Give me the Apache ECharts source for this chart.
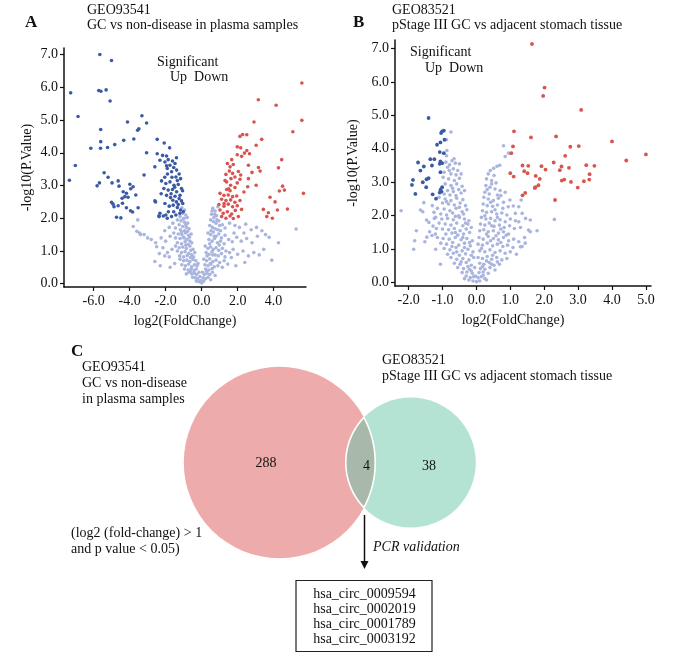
<!DOCTYPE html>
<html>
<head>
<meta charset="utf-8">
<script src="https://cdn.jsdelivr.net/npm/echarts@6/dist/echarts.min.js"></script>
<style>
  html, body { margin: 0; padding: 0; background: #fff; }
  #chart { width: 680px; height: 658px; }
</style>
</head>
<body>
<div id="chart"></div>
<script>
// ---- panel A: GEO93541 volcano ----
const aXTicks = [-6, -4, -2, 0, 2, 4];
const aYTicks = [0, 1, 2, 3, 4, 5, 6, 7];

const aDown = [
  [-5.66,7.00],[-5.01,6.82],[-7.28,5.83],[-5.72,5.90],[-5.60,5.88],[-5.31,5.92],[-5.09,5.58],[-6.87,5.11],
  [-3.32,5.13],[-4.12,4.94],[-3.06,4.91],[-3.49,4.73],[-3.56,4.69],[-5.61,4.71],[-5.61,4.34],[-4.33,4.38],
  [-3.77,4.42],[-4.83,4.25],[-6.16,4.14],[-5.62,4.14],[-5.23,4.16],[-3.06,4.00],[-2.47,4.41],[-2.08,4.30],
  [-1.78,4.15],[-7.02,3.61],[-5.42,3.39],[-3.20,3.32],[-7.35,3.16],[-5.20,3.25],[-5.81,2.99],[-5.68,3.08],
  [-4.98,3.08],[-4.64,3.14],[-4.59,2.98],[-3.99,3.04],[-3.81,2.96],[-3.94,2.90],[-4.36,2.81],[-4.18,2.76],
  [-4.27,2.66],[-4.42,2.61],[-4.09,2.64],[-3.66,2.71],[-5.01,2.49],[-4.92,2.43],[-4.87,2.35],[-4.64,2.38],
  [-4.40,2.46],[-4.18,2.32],[-3.95,2.23],[-3.84,2.19],[-3.53,2.32],[-4.73,2.03],[-4.49,2.01],[-2.56,2.50],
  [-2.38,2.07],[-1.99,2.10],[-2.32,2.15],
  [-2.47,3.97],[-2.17,3.92],[-2.32,3.77],[-2.60,3.57],[-2.04,3.72],[-1.86,3.79],[-1.62,3.75],[-1.76,3.62],
  [-1.48,3.67],[-1.91,3.52],[-1.39,3.47],[-1.67,3.42],[-1.25,3.35],[-1.43,3.26],[-1.17,3.21],[-2.23,3.14],
  [-1.99,3.06],[-1.76,3.11],[-1.54,3.01],[-1.30,3.03],[-1.12,2.91],[-2.10,2.91],[-1.86,2.86],[-1.62,2.88],
  [-1.39,2.81],[-1.06,2.84],[-1.95,2.70],[-1.73,2.63],[-1.48,2.67],[-1.25,2.60],[-1.12,2.53],[-2.60,2.53],
  [-2.04,2.45],[-1.80,2.37],[-1.58,2.40],[-1.35,2.33],[-1.17,2.25],[-2.36,2.05],[-2.13,2.07],[-1.91,2.00],
  [-1.67,2.05],[-1.43,2.10],[-1.21,2.15],[-1.02,2.20],
  [-1.95,3.60],[-1.55,3.55],[-1.35,3.15],[-1.65,3.25],[-1.90,3.35],[-2.05,3.25],[-1.50,2.95],[-1.20,2.70],
  [-1.60,2.55],[-1.05,2.45],[-1.40,2.50],[-1.85,2.20],[-1.55,2.20],[-1.30,2.42],[-1.70,2.75],[-2.25,2.75],
  [-1.95,3.90],[-1.40,3.85]
];

const aUp = [
  [5.57,6.13],[3.15,5.62],[4.14,5.45],[2.91,4.94],[5.57,4.99],[5.07,4.64],
  [2.28,4.56],[2.51,4.55],[2.13,4.50],[3.34,4.41],[3.03,4.23],[1.98,4.18],[2.17,4.15],
  [2.51,4.07],[2.38,3.99],[2.66,3.97],[1.98,3.94],[2.22,3.89],[4.45,3.79],[1.67,3.79],[1.43,3.67],
  [1.76,3.64],[1.58,3.57],[2.60,3.62],[3.16,3.55],[3.25,3.44],[4.27,3.54],[1.54,3.44],[1.72,3.37],
  [1.35,3.34],[1.85,3.26],[1.63,3.21],[2.04,3.43],[2.17,3.32],[2.13,3.19],[1.98,3.08],[2.60,3.21],
  [3.03,3.01],[2.56,2.96],[1.39,3.11],[1.61,3.01],[1.85,2.94],[1.39,2.88],[1.58,2.84],[4.50,2.98],
  [4.60,2.86],[4.32,2.83],[5.66,2.76],[1.02,2.76],[1.24,2.70],[1.48,2.71],[1.72,2.66],[1.95,2.68],
  [1.11,2.58],[1.35,2.54],[1.61,2.56],[1.85,2.49],[2.13,2.54],[3.80,2.64],[4.08,2.50],[0.96,2.42],
  [1.24,2.37],[1.48,2.43],[1.72,2.35],[1.98,2.38],[2.22,2.27],[3.43,2.27],[3.71,2.17],[4.21,2.25],
  [4.77,2.28],[1.02,2.25],[1.20,2.15],[1.43,2.20],[1.67,2.13],[1.87,2.24],[1.11,2.05],[1.35,2.00],
  [1.58,2.07],[1.76,1.99],[2.04,2.05],[3.62,2.05],[3.93,2.00],
  [1.30,3.15],[1.50,2.90],[1.25,2.45],[2.35,2.80],[2.80,3.40]
];

const aNs = [
  [-1.10,2.32],[-0.95,2.25],[-1.05,2.15],[-0.88,2.10],[-1.20,2.05],[-0.98,2.00],[-0.80,2.02],
  [0.62,2.30],[0.75,2.22],[0.90,2.35],[0.55,2.12],[0.82,2.08],[0.68,2.02],
  [-1.35,1.95],[-1.15,1.92],[-0.95,1.88],[-0.78,1.85],[-1.25,1.80],[-1.05,1.75],[-0.85,1.72],[-0.70,1.68],
  [-1.45,1.70],[-1.18,1.65],[-0.95,1.62],[-1.60,1.85],[-1.80,1.72],[-2.05,1.62],
  [0.50,1.95],[0.65,1.90],[0.80,1.85],[0.95,1.92],[1.15,1.80],[0.45,1.78],[0.60,1.72],[0.75,1.68],
  [0.90,1.65],[1.30,1.70],[1.55,1.85],[1.85,1.78],[2.10,1.72],[2.45,1.82],[2.75,1.65],[3.05,1.72],
  [3.35,1.62],[5.25,1.67],[1.05,1.62],
  [-1.55,1.55],[-1.30,1.52],[-1.10,1.50],[-0.90,1.55],[-0.72,1.48],[-0.58,1.52],[-1.45,1.40],[-1.20,1.38],
  [-1.00,1.42],[-0.82,1.35],[-0.65,1.30],[-1.35,1.25],[-1.12,1.22],[-0.92,1.28],[-0.75,1.20],[-0.55,1.25],
  [-1.75,1.45],[-2.00,1.30],[-2.25,1.40],[-2.55,1.25],[-2.80,1.35],[-3.00,1.40],[-3.20,1.50],[-3.45,1.55],
  [-3.60,1.60],[-3.80,1.75],[-3.55,1.95],[-3.40,1.50],
  [0.35,1.55],[0.50,1.50],[0.65,1.58],[0.80,1.45],[0.95,1.52],[1.10,1.40],[1.30,1.48],[0.40,1.35],
  [0.58,1.30],[0.72,1.38],[0.88,1.25],[1.05,1.30],[1.25,1.22],[1.50,1.35],[1.70,1.28],[1.95,1.42],
  [2.20,1.30],[2.50,1.38],[2.80,1.25],[3.10,1.45],[3.55,1.50],[3.75,1.42],[4.27,1.25],[2.35,1.55],[1.80,1.55],
  [-1.45,1.15],[-1.25,1.10],[-1.05,1.12],[-0.85,1.08],[-0.65,1.15],[-0.48,1.05],[-1.35,1.00],[-1.12,0.95],
  [-0.92,0.98],[-0.72,0.92],[-0.55,0.88],[-0.38,0.95],[-1.22,0.85],[-1.00,0.82],[-0.80,0.86],[-0.62,0.80],
  [-1.65,1.05],[-1.90,0.95],[-2.15,1.10],[-2.35,0.92],[-2.50,1.13],[-1.80,0.82],[-2.05,0.85],
  [0.20,1.15],[0.35,1.08],[0.50,1.12],[0.65,1.05],[0.80,1.10],[0.95,1.02],[1.15,1.08],[1.35,1.00],
  [0.25,0.95],[0.42,0.90],[0.58,0.98],[0.75,0.88],[0.92,0.85],[1.10,0.92],[1.30,0.82],[1.55,0.95],
  [1.75,1.05],[2.00,0.90],[2.30,1.00],[2.60,0.85],[2.90,0.95],[3.20,0.88],[3.45,1.05],[3.90,0.72],[1.65,0.80],
  [-1.20,0.75],[-1.00,0.70],[-0.82,0.72],[-0.65,0.68],[-0.48,0.74],[-0.32,0.70],[-1.10,0.58],[-0.90,0.55],
  [-0.72,0.60],[-0.55,0.52],[-0.40,0.58],[-0.25,0.55],[-0.95,0.45],[-0.75,0.42],[-0.58,0.46],[-0.42,0.40],
  [-1.50,0.62],[-2.60,0.68],[-2.30,0.55],[-1.75,0.50],
  [0.12,0.75],[0.28,0.70],[0.45,0.76],[0.62,0.68],[0.80,0.72],[1.00,0.65],[1.25,0.70],[0.18,0.58],
  [0.35,0.55],[0.52,0.60],[0.70,0.52],[0.90,0.55],[1.15,0.50],[0.22,0.45],[0.40,0.42],[0.58,0.46],
  [1.45,0.60],[1.90,0.55],[2.40,0.65],
  [-0.70,0.35],[-0.55,0.30],[-0.40,0.32],[-0.28,0.28],[-0.15,0.35],[-0.50,0.20],[-0.35,0.18],[-0.22,0.15],
  [-0.10,0.22],[-0.30,0.08],[-0.15,0.06],[-0.05,0.10],[-0.85,0.30],
  [0.05,0.35],[0.15,0.28],[0.30,0.32],[0.45,0.28],[0.60,0.35],[0.08,0.18],[0.22,0.15],[0.35,0.20],
  [0.50,0.12],[0.03,0.05],[0.12,0.08],[0.75,0.25],[0.00,0.02],
  [-1.02,1.98],[-0.88,1.80],[-1.12,1.58],[-0.78,1.60],[-0.98,1.40],[-0.68,1.42],[-0.88,1.18],[-0.60,1.02],
  [-0.45,0.82],[-0.30,0.45],[-0.20,0.62],[-0.62,0.38],[0.58,2.22],[0.72,2.12],[0.52,1.62],[0.70,1.45],
  [0.45,1.22],[0.30,0.85],[0.48,0.62],[0.28,0.38],[0.85,1.95],[1.00,1.78],[0.62,0.88],[0.98,1.18]
];

// ---- panel B: GEO83521 volcano ----
const bXTicks = [-2, -1, 0, 1, 2, 3, 4, 5];
const bYTicks = [0, 1, 2, 3, 4, 5, 6, 7];

const bDown = [
  [-1.41,4.92],[-1.01,4.52],[-0.96,4.54],[-1.04,4.47],[-0.94,4.27],[-1.06,4.19],[-1.16,4.12],[-1.08,3.90],
  [-0.96,3.87],[-1.72,3.59],[-1.36,3.69],[-1.24,3.69],[-1.06,3.62],[-1.01,3.57],[-1.08,3.55],[-1.55,3.47],
  [-1.31,3.50],[-1.65,3.35],[-1.47,3.09],[-1.06,3.30],[-1.87,3.07],[-1.90,2.92],[-1.58,3.00],[-1.41,3.12],
  [-1.01,2.85],[-1.06,2.77],[-1.08,2.69],[-1.03,2.72],[-1.80,2.65],[-1.48,2.85],[-1.29,2.64],[-1.19,2.51]
];

const bUp = [
  [1.64,7.13],[2.01,5.83],[1.97,5.58],[3.09,5.16],[1.11,4.52],[1.61,4.34],[2.35,4.37],[4.00,4.22],
  [1.08,4.07],[2.77,4.06],[3.02,4.08],[1.03,3.87],[5.00,3.83],[2.62,3.79],[4.42,3.65],[2.28,3.59],
  [1.36,3.50],[1.53,3.49],[1.92,3.48],[2.04,3.38],[2.51,3.47],[2.73,3.43],[2.46,3.36],[3.24,3.51],
  [3.48,3.49],[1.41,3.33],[1.51,3.27],[1.00,3.27],[1.10,3.17],[1.75,3.19],[1.87,3.10],[3.34,3.24],
  [3.33,3.08],[2.52,3.05],[2.59,3.08],[2.79,3.01],[3.17,3.03],[1.83,2.91],[1.72,2.83],[1.74,2.85],
  [2.99,2.84],[1.44,2.68],[1.36,2.61],[2.32,2.47]
];

const bNs = [
  [-0.75,4.50],[-0.88,4.27],[-0.87,3.95],[-0.88,3.79],
  [-0.72,3.64],[-0.62,3.57],[-0.79,3.52],[-0.85,3.45],[-0.68,3.40],[-0.55,3.35],[-0.95,3.30],[-0.75,3.25],
  [-0.60,3.22],[-0.90,3.60],[-0.50,3.55],
  [-0.98,3.15],[-0.82,3.10],[-0.65,3.05],[-0.50,3.12],[-0.92,2.95],[-0.75,2.90],[-0.58,2.95],[-0.42,2.88],
  [-1.05,2.80],[-0.85,2.75],[-0.68,2.72],[-0.52,2.78],[-0.95,2.65],[-0.78,2.62],[-0.60,2.60],[-0.45,2.68],
  [-1.10,2.55],[-0.92,2.50],[-0.75,2.45],[-0.58,2.52],[-0.40,2.48],[-1.00,2.38],[-0.82,2.35],[-0.65,2.32],
  [-0.48,2.38],[-0.32,2.30],[-1.15,2.22],[-0.95,2.20],[-0.78,2.15],[-0.60,2.22],[-0.42,2.12],[-0.28,2.18],
  [-1.05,2.05],[-0.88,2.02],[-0.70,2.08],[-0.52,2.00],[-1.55,2.39],[-1.58,2.12],[-1.65,2.17],[-2.22,2.15],
  [-1.30,2.30],[-1.25,2.10],
  [-1.20,1.95],[-1.02,1.90],[-0.85,1.92],[-0.68,1.88],[-0.50,1.95],[-0.35,1.90],[-0.22,1.85],[-1.10,1.78],
  [-0.92,1.75],[-0.75,1.72],[-0.58,1.78],[-0.40,1.70],[-0.25,1.75],[-1.18,1.62],[-1.00,1.60],[-0.82,1.58],
  [-0.65,1.62],[-0.48,1.55],[-0.30,1.60],[-0.90,1.45],[-0.72,1.48],[-0.55,1.42],[-0.38,1.45],[-0.20,1.50],
  [-1.47,1.87],[-1.28,1.69],[-1.24,1.92],[-1.38,1.52],[-1.77,1.55],[-1.21,1.45],[-1.40,1.80],
  [-1.15,1.35],[-0.98,1.32],[-0.80,1.30],[-0.62,1.35],[-0.45,1.28],[-0.28,1.32],[-0.12,1.25],[-1.05,1.18],
  [-0.88,1.15],[-0.70,1.20],[-0.52,1.12],[-0.35,1.18],[-0.18,1.10],[-0.95,1.02],[-0.78,0.98],[-0.60,1.05],
  [-0.42,0.95],[-0.25,1.00],[-0.10,0.92],[-0.85,0.85],[-0.68,0.88],[-0.50,0.82],[-0.32,0.86],[-1.46,1.36],
  [-1.52,1.22],[-1.82,1.25],[-1.31,1.41],[-1.85,1.00],[-1.20,1.00],
  [-0.75,0.75],[-0.58,0.70],[-0.40,0.72],[-0.22,0.68],[-0.08,0.75],[-0.65,0.58],[-0.48,0.55],[-0.30,0.60],
  [-0.15,0.52],[-0.55,0.45],[-0.38,0.42],[-0.20,0.40],[-0.05,0.45],[-0.42,0.30],[-0.28,0.32],[-0.12,0.28],
  [-1.06,0.55],
  [-0.30,0.20],[-0.18,0.15],[-0.08,0.18],[-0.22,0.08],[-0.10,0.05],[0.00,0.03],[-0.35,0.12],
  [0.80,4.09],[0.95,3.87],[0.85,3.77],[0.41,3.35],[0.51,3.42],[0.61,3.48],[0.69,3.51],[0.35,3.25],
  [0.30,3.10],[0.45,3.05],[0.58,2.98],[0.28,2.90],[0.40,2.85],[0.55,2.80],[0.70,2.75],[0.25,2.70],
  [0.38,2.65],[0.62,2.62],[0.85,2.70],
  [0.22,2.55],[0.35,2.50],[0.50,2.45],[0.65,2.52],[0.80,2.40],[0.99,2.47],[0.20,2.35],[0.32,2.30],
  [0.48,2.28],[0.62,2.32],[0.78,2.22],[0.94,2.27],[1.09,2.29],[0.18,2.15],[0.30,2.10],[0.45,2.12],
  [0.60,2.05],[0.75,2.08],[0.90,2.02],[1.32,2.47],[1.25,2.27],[1.35,2.07],[1.15,2.07],
  [0.15,1.95],[0.28,1.90],[0.42,1.92],[0.55,1.85],[0.70,1.88],[0.85,1.82],[1.00,1.90],[1.15,1.85],
  [0.12,1.75],[0.25,1.72],[0.38,1.78],[0.52,1.68],[0.68,1.72],[0.82,1.65],[0.98,1.70],[1.12,1.62],
  [0.10,1.55],[0.22,1.58],[0.35,1.52],[0.50,1.55],[0.65,1.48],[0.80,1.52],[0.95,1.45],[1.25,1.82],
  [1.45,1.92],[1.59,1.87],[1.79,1.55],[1.54,1.57],[1.59,1.52],[1.42,1.35],[1.30,1.65],[2.30,1.89],
  [0.08,1.35],[0.20,1.30],[0.35,1.38],[0.50,1.32],[0.65,1.28],[0.80,1.35],[0.95,1.25],[1.10,1.30],
  [1.25,1.22],[0.05,1.15],[0.18,1.12],[0.32,1.18],[0.48,1.10],[0.62,1.15],[0.78,1.08],[0.92,1.12],
  [1.08,1.05],[1.44,1.18],[1.35,1.08],[1.30,1.07],[0.10,0.95],[0.25,0.92],[0.40,0.98],[0.55,0.90],
  [0.70,0.95],[0.85,0.88],[1.00,0.92],[1.18,0.85],
  [0.05,0.75],[0.18,0.72],[0.32,0.78],[0.45,0.70],[0.60,0.75],[0.75,0.68],[0.90,0.72],[0.10,0.58],
  [0.22,0.55],[0.38,0.60],[0.52,0.52],[0.68,0.55],[0.12,0.42],[0.25,0.40],[0.40,0.45],[0.55,0.38],
  [0.08,0.30],[0.20,0.32],[0.35,0.28],
  [0.05,0.15],[0.15,0.18],[0.25,0.12],[0.10,0.05],[0.30,0.08],
  [-0.66,3.70],[-0.80,3.35],[-0.45,3.25],[-0.70,2.82],[-0.35,2.75],[-0.88,2.42],[-0.50,2.25],[-0.38,2.05],
  [-0.62,1.98],[-0.32,1.78],[-0.15,1.65],[-0.62,1.50],[-0.40,1.35],[-0.20,1.20],[-0.72,1.08],[-0.35,1.05],
  [-0.58,0.92],[-0.15,0.82],[-0.45,0.62],[-0.25,0.48],[-0.15,0.35],[-0.02,0.20],
  [0.52,3.20],[0.45,2.95],[0.32,2.78],[0.72,2.60],[0.42,2.40],[0.55,2.18],[0.25,2.00],[0.62,1.95],
  [0.45,1.70],[0.72,1.60],[0.30,1.45],[0.88,1.42],[0.58,1.40],[0.42,1.25],[0.72,1.20],[0.15,1.02],
  [0.48,0.82],[0.30,0.65],[0.62,0.62],[0.18,0.48],[0.45,0.55],[0.20,0.22]
];

// ---- panel C: Venn ----
const vennRegions = ['GEO93541 only', 'GEO83521 only', 'both'];
const vennCounts = [288, 38, 4];
const validated = ['hsa_circ_0009594', 'hsa_circ_0002019', 'hsa_circ_0001789', 'hsa_circ_0003192'];

// layout (pixels)
const SERIF = '"Liberation Serif", "DejaVu Serif", serif';
const pinkC = { cx: 279.5, cy: 462.5, r: 95.7 };
const greenC = { cx: 410.8, cy: 462.5, r: 65 };
const labelPos = [[266, 463], [429, 466], [366.5, 466]];

const C_DOWN = '#3b5aa6';
const C_UP = '#d9534f';
const C_NS = '#a9b5de';

function inside(c, x, y) {
  const dx = x - c.cx, dy = y - c.cy;
  return dx * dx + dy * dy <= c.r * c.r + 0.01;
}

function lensPoints() {
  const pts = [];
  // pink arc inside green, top -> bottom
  for (let i = 0; i <= 360; i++) {
    const t = -Math.PI / 2 + Math.PI * i / 360;
    const x = pinkC.cx + pinkC.r * Math.cos(t), y = pinkC.cy + pinkC.r * Math.sin(t);
    if (inside(greenC, x, y)) pts.push([x, y]);
  }
  // green arc inside pink, bottom -> top
  for (let i = 0; i <= 360; i++) {
    const t = Math.PI / 2 + Math.PI * i / 360;
    const x = greenC.cx + greenC.r * Math.cos(t), y = greenC.cy + greenC.r * Math.sin(t);
    if (inside(pinkC, x, y)) pts.push([x, y]);
  }
  return pts;
}

function numberText(i) {
  return {
    type: 'text',
    style: {
      text: String(vennCounts[i]), x: labelPos[i][0], y: labelPos[i][1],
      font: '14px ' + SERIF, fill: '#111',
      align: 'center', verticalAlign: 'middle', textAlign: 'center', textVerticalAlign: 'middle'
    }
  };
}

function renderVenn(params, api) {
  const i = params.dataIndex;
  let shape;
  if (i === 0) {
    shape = { type: 'circle', shape: { cx: pinkC.cx, cy: pinkC.cy, r: pinkC.r }, style: { fill: '#eeabab' } };
  } else if (i === 1) {
    shape = { type: 'circle', shape: { cx: greenC.cx, cy: greenC.cy, r: greenC.r }, style: { fill: '#b4e3d3' } };
  } else {
    shape = { type: 'polygon', shape: { points: lensPoints() },
      style: { fill: '#a8b9a9', stroke: '#ffffff', lineWidth: 1.6 } };
  }
  return { type: 'group', children: [shape, numberText(i)] };
}

function txt(text, x, y, opts) {
  opts = opts || {};
  return {
    type: 'text', z: 100,
    style: {
      text: text, x: x, y: y,
      font: (opts.font || '14px') + ' ' + SERIF,
      fill: '#111',
      align: opts.align || 'left', textAlign: opts.align || 'left',
      verticalAlign: 'middle', textVerticalAlign: 'middle'
    }
  };
}

function valueAxis(gridIndex, min, max, ticks, name, isY, nameGap, namePad) {
  return {
    type: 'value', gridIndex: gridIndex, min: min, max: max,
    name: name, nameLocation: 'middle', nameGap: nameGap,
    nameRotate: isY ? 90 : 0,
    nameTextStyle: { fontFamily: SERIF, fontSize: 14, color: '#111', padding: namePad || 0 },
    axisLine: { show: true, onZero: false, lineStyle: { color: '#111', width: 1.5 } },
    axisTick: { show: true, inside: false, length: 4, customValues: ticks, lineStyle: { color: '#111', width: 1.2 } },
    axisLabel: {
      customValues: ticks, fontFamily: SERIF, fontSize: 14, color: '#111', margin: isY ? 6 : 7,
      formatter: function (v) { return Number(v).toFixed(1); }
    },
    splitLine: { show: false }
  };
}

function dots(name, data, color, xi, size, z) {
  return {
    name: name, type: 'scatter', xAxisIndex: xi, yAxisIndex: xi, data: data,
    symbol: 'circle', symbolSize: size, z: z, silent: true,
    itemStyle: { color: color, opacity: 1 }
  };
}

const chart = echarts.init(document.getElementById('chart'), null, { renderer: 'canvas' });

const option = {
  animation: false,
  backgroundColor: '#ffffff',
  grid: [
    { left: 64, top: 48, width: 242, height: 239 },
    { left: 395, top: 40, width: 256, height: 246 }
  ],
  xAxis: [
    valueAxis(0, -7.65, 5.8, aXTicks, 'log2(FoldChange)', false, 27),
    valueAxis(1, -2.4, 5.15, bXTicks, 'log2(FoldChange)', false, 27, [0, 20, 0, 0])
  ],
  yAxis: [
    valueAxis(0, -0.1, 7.2, aYTicks, '-log10(P.Value)', true, 30),
    valueAxis(1, -0.1, 7.25, bYTicks, '-log10(P.Value)', true, 35)
  ],
  series: [
    dots('Not significant', aNs, C_NS, 0, 3.6, 2),
    dots('Down', aDown, C_DOWN, 0, 3.6, 3),
    dots('Up', aUp, C_UP, 0, 3.6, 3),
    dots('Not significant', bNs, C_NS, 1, 3.6, 2),
    dots('Down', bDown, C_DOWN, 1, 3.8, 3),
    dots('Up', bUp, C_UP, 1, 3.8, 3),
    {
      type: 'custom', coordinateSystem: 'none', silent: true,
      data: vennCounts.map(function (v, i) { return { name: vennRegions[i], value: [v] }; }),
      renderItem: renderVenn
    }
  ],
  graphic: [
    // panel titles
    txt('A', 25, 23, { font: 'bold 17px' }),
    txt('GEO93541', 87, 10),
    txt('GC vs non-disease in plasma samples', 87, 25),
    txt('B', 353, 23, { font: 'bold 17px' }),
    txt('GEO83521', 392, 10),
    txt('pStage III GC vs adjacent stomach tissue', 392, 25),
    // legend text
    txt('Significant', 157, 62),
    txt('Up  Down', 170, 77),
    txt('Significant', 410, 52),
    txt('Up  Down', 425, 68),
    // panel C text
    txt('C', 71, 352, { font: 'bold 17px' }),
    txt('GEO93541', 82, 367),
    txt('GC vs non-disease', 82, 383),
    txt('in plasma samples', 82, 399),
    txt('GEO83521', 382, 360),
    txt('pStage III GC vs adjacent stomach tissue', 382, 376),
    txt('(log2 (fold-change) > 1', 71, 533),
    txt('and p value < 0.05)', 71, 549),
    txt('PCR validation', 373, 547, { font: 'italic 14px' }),
    // arrow
    { type: 'line', z: 100, shape: { x1: 364.5, y1: 515, x2: 364.5, y2: 562 }, style: { stroke: '#111', lineWidth: 1.5 } },
    { type: 'polygon', z: 100, shape: { points: [[360.5, 561], [368.5, 561], [364.5, 569]] }, style: { fill: '#111' } },
    // result box
    { type: 'rect', z: 100, shape: { x: 296, y: 580.5, width: 136, height: 71 }, style: { fill: 'none', stroke: '#222', lineWidth: 1.2 } }
  ].concat(validated.map(function (s, i) { return txt(s, 364.5, 594.5 + i * 15, { align: 'center' }); }))
};

chart.setOption(option);
</script>
</body>
</html>
